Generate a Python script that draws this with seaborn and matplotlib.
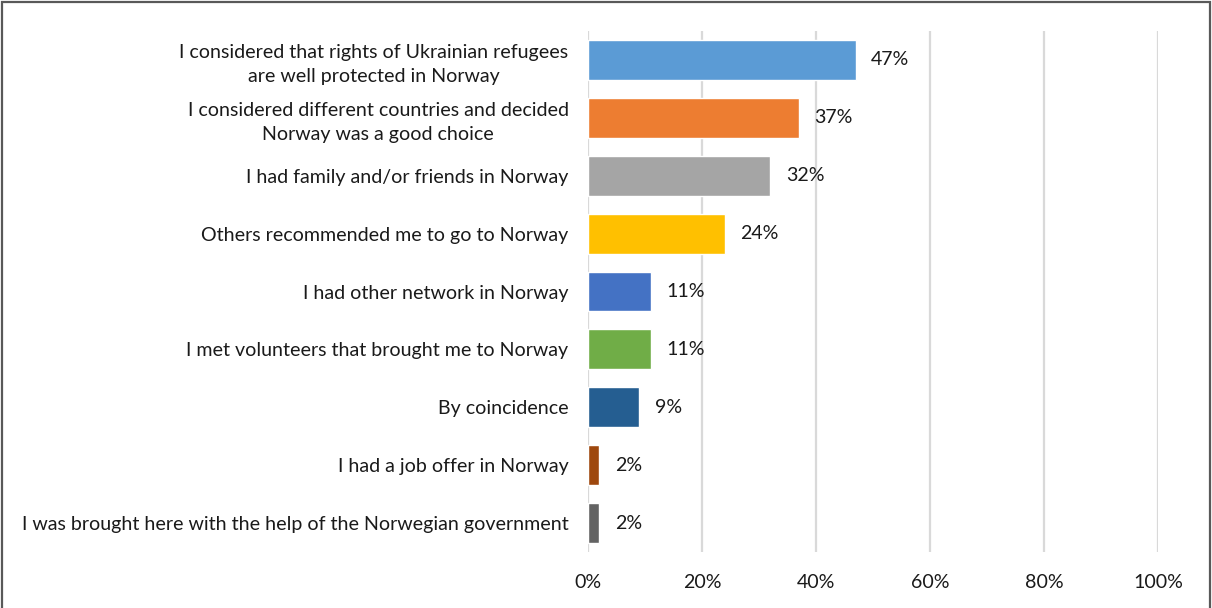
import matplotlib
matplotlib.use("Agg")
import matplotlib.pyplot as plt
from matplotlib.patches import Rectangle
import seaborn as sns
import pandas as pd

reasons = [
    "I considered that rights of Ukrainian refugees\nare well protected in Norway",
    "I considered different countries and decided\nNorway was a good choice",
    "I had family and/or friends in Norway",
    "Others recommended me to go to Norway",
    "I had other network in Norway",
    "I met volunteers that brought me to Norway",
    "By coincidence",
    "I had a job offer in Norway",
    "I was brought here with the help of the Norwegian government",
]
shares = [47, 37, 32, 24, 11, 11, 9, 2, 2]
bar_colors = ["#5B9BD5", "#ED7D31", "#A5A5A5", "#FFC000", "#4472C4",
              "#70AD47", "#255E91", "#9E480E", "#636363"]
x_ticks = [0, 20, 40, 60, 80, 100]

df = pd.DataFrame({"reason": reasons, "share": shares})

sns.set_theme(style="white")
plt.rcParams["font.family"] = ["Lato", "DejaVu Sans"]
text_color = "#1a1a1a"
fsize = 14.1

fig = plt.figure(figsize=(12.12, 6.08), dpi=100)
ax = fig.add_axes([588 / 1212, 1 - 552 / 608, 570 / 1212, 521 / 608])

sns.barplot(data=df, x="share", y="reason", hue="reason", palette=bar_colors,
            orient="h", width=0.69, legend=False, ax=ax, saturation=1)

ax.set_xlim(0, 100)
ax.set_ylim(len(reasons) - 0.5, -0.5)
ax.set_xticks(x_ticks)
ax.set_xticklabels([f"{t}%" for t in x_ticks])
ax.xaxis.grid(True, color="#d9d9d9", linewidth=1.6)
ax.yaxis.grid(False)
ax.set_axisbelow(True)
for s in ax.spines.values():
    s.set_visible(False)
ax.set_xlabel("")
ax.set_ylabel("")
ax.tick_params(axis="both", length=0, labelsize=fsize, colors=text_color)
ax.tick_params(axis="x", pad=16)
ax.tick_params(axis="y", pad=14)
for lbl in ax.get_yticklabels():
    lbl.set_multialignment("center")
    lbl.set_linespacing(1.45)

for cont in ax.containers:
    texts = ax.bar_label(cont, labels=[f"{v:.0f}%" for v in cont.datavalues],
                         padding=11, fontsize=fsize, color=text_color)

# outer chart frame (open at the bottom edge)
fig.patches.append(Rectangle((1.5 / 1212, -0.05), 1208.5 / 1212, 1.05 - 1.5 / 608,
                             transform=fig.transFigure, fill=False,
                             edgecolor="#595959", linewidth=1.6))

fig.savefig("out.png", dpi=100, facecolor="white")
